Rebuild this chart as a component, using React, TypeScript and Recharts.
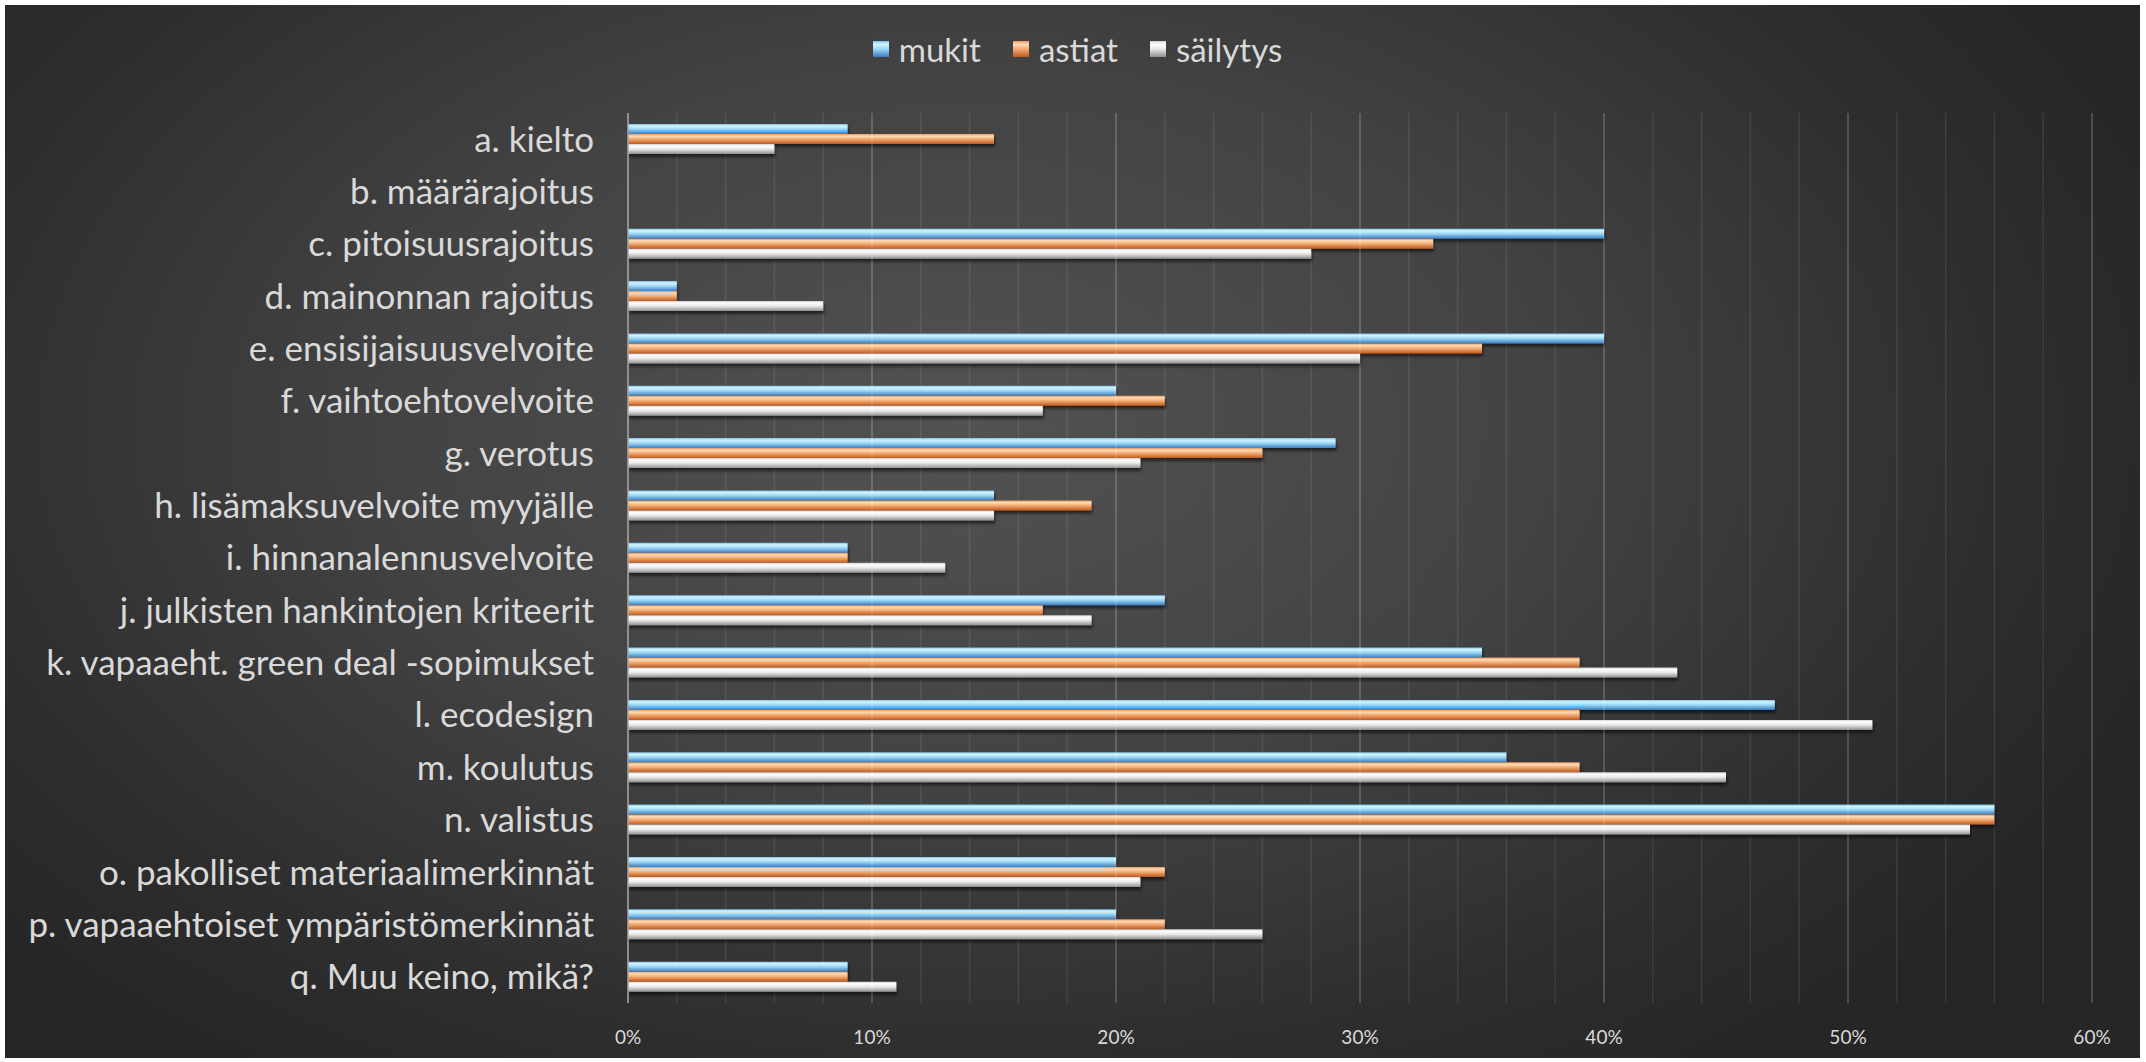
import { BarChart, Bar, XAxis, YAxis, CartesianGrid, Legend, ReferenceLine } from "recharts";

const categories = [
  "a. kielto",
  "b. määrärajoitus",
  "c. pitoisuusrajoitus",
  "d. mainonnan rajoitus",
  "e. ensisijaisuusvelvoite",
  "f. vaihtoehtovelvoite",
  "g. verotus",
  "h. lisämaksuvelvoite myyjälle",
  "i. hinnanalennusvelvoite",
  "j. julkisten hankintojen kriteerit",
  "k. vapaaeht. green deal -sopimukset",
  "l. ecodesign",
  "m. koulutus",
  "n. valistus",
  "o. pakolliset materiaalimerkinnät",
  "p. vapaaehtoiset ympäristömerkinnät",
  "q. Muu keino, mikä?",
];

const seriesNames = ["mukit", "astiat", "säilytys"];
const mukit = [9, 0, 40, 2, 40, 20, 29, 15, 9, 22, 35, 47, 36, 56, 20, 20, 9];
const astiat = [15, 0, 33, 2, 35, 22, 26, 19, 9, 17, 39, 39, 39, 56, 22, 22, 9];
const sailytys = [6, 0, 28, 8, 30, 17, 21, 15, 13, 19, 43, 51, 45, 55, 21, 26, 11];

// every 2 % gets a grid line, only multiples of 10 get a label
const gridTicks = [0, 2, 4, 6, 8, 10, 12, 14, 16, 18, 20, 22, 24, 26, 28, 30, 32, 34, 36, 38, 40, 42, 44, 46, 48, 50, 52, 54, 56, 58, 60];
const majorTicks = [10, 20, 30, 40, 50, 60];

const data = categories.map((name, i) => ({
  name,
  mukit: mukit[i],
  astiat: astiat[i],
  säilytys: sailytys[i],
}));

const FONT = "Lato, 'Open Sans', sans-serif";
const TEXT = "#d9d9d9";

export default function App() {
  return (
    <div style={{ width: 2146, height: 1062, background: "#fff", position: "relative" }}>
      <style>{`body{margin:0} .recharts-legend-item svg{vertical-align:middle !important}`}</style>
      <div
        style={{
          position: "absolute",
          left: 5,
          top: 5,
          width: 2135,
          height: 1053,
          background:
            "radial-gradient(ellipse 60% 75% at 45% 40%, #525252 0%, #434343 45%, #2e2e2e 80%, #262626 100%)",
        }}
      >
        <BarChart
          width={2135}
          height={1053}
          data={data}
          layout="vertical"
          margin={{ top: 68, right: 48, bottom: 15, left: 0 }}
          barSize={10}
          barGap={0}
          style={{ fontFamily: FONT }}
        >
          <defs>
            <linearGradient id="gBlue" x1="0" y1="0" x2="0" y2="1">
              <stop offset="0%" stopColor="#7cc0ea" />
              <stop offset="20%" stopColor="#d4f4ff" />
              <stop offset="50%" stopColor="#9cd8f5" />
              <stop offset="100%" stopColor="#3a7cc0" />
            </linearGradient>
            <linearGradient id="gOrange" x1="0" y1="0" x2="0" y2="1">
              <stop offset="0%" stopColor="#e8955a" />
              <stop offset="20%" stopColor="#ffdcb8" />
              <stop offset="50%" stopColor="#f4ac74" />
              <stop offset="100%" stopColor="#bd5a20" />
            </linearGradient>
            <linearGradient id="gGrey" x1="0" y1="0" x2="0" y2="1">
              <stop offset="0%" stopColor="#cfcfcf" />
              <stop offset="20%" stopColor="#ffffff" />
              <stop offset="50%" stopColor="#e8e8e8" />
              <stop offset="100%" stopColor="#909090" />
            </linearGradient>
            <filter id="shadow" x="-5%" y="-50%" width="110%" height="250%">
              <feDropShadow dx="1" dy="3" stdDeviation="1.5" floodColor="#000" floodOpacity="0.55" />
            </filter>
          </defs>
          <Legend
            verticalAlign="top"
            align="center"
            iconType="square"
            iconSize={16}
            itemSorter={(item: any) => seriesNames.indexOf(item.value)}
            wrapperStyle={{ top: 24, left: 45 }}
            formatter={(v) => (
              <span
                style={{
                  color: TEXT,
                  fontSize: 33,
                  fontFamily: FONT,
                  marginLeft: 6,
                  marginRight: 22,
                  verticalAlign: "middle",
                }}
              >
                {v}
              </span>
            )}
          />
          <CartesianGrid horizontal={false} stroke="rgba(255,255,255,0.09)" strokeWidth={1.5} />
          {majorTicks.map((t) => (
            <ReferenceLine key={t} x={t} stroke="rgba(255,255,255,0.16)" strokeWidth={1.5} />
          ))}
          <XAxis
            type="number"
            domain={[0, 60]}
            ticks={gridTicks}
            interval={0}
            tickFormatter={(v) => (v % 10 === 0 ? `${v}%` : "")}
            axisLine={false}
            tickLine={false}
            tickSize={0}
            tickMargin={28}
            height={40}
            tick={{ fill: TEXT, fontSize: 19, fontFamily: FONT }}
          />
          <YAxis
            type="category"
            dataKey="name"
            width={623}
            axisLine={{ stroke: "#a6a6a6", strokeWidth: 1.5 }}
            tickLine={false}
            tickSize={0}
            tickMargin={34}
            interval={0}
            tick={{ fill: TEXT, fontSize: 35, fontFamily: FONT }}
          />
          <Bar dataKey="mukit" fill="url(#gBlue)" filter="url(#shadow)" isAnimationActive={false} legendType="square" />
          <Bar dataKey="astiat" fill="url(#gOrange)" filter="url(#shadow)" isAnimationActive={false} legendType="square" />
          <Bar dataKey="säilytys" fill="url(#gGrey)" filter="url(#shadow)" isAnimationActive={false} legendType="square" />
        </BarChart>
      </div>
    </div>
  );
}
